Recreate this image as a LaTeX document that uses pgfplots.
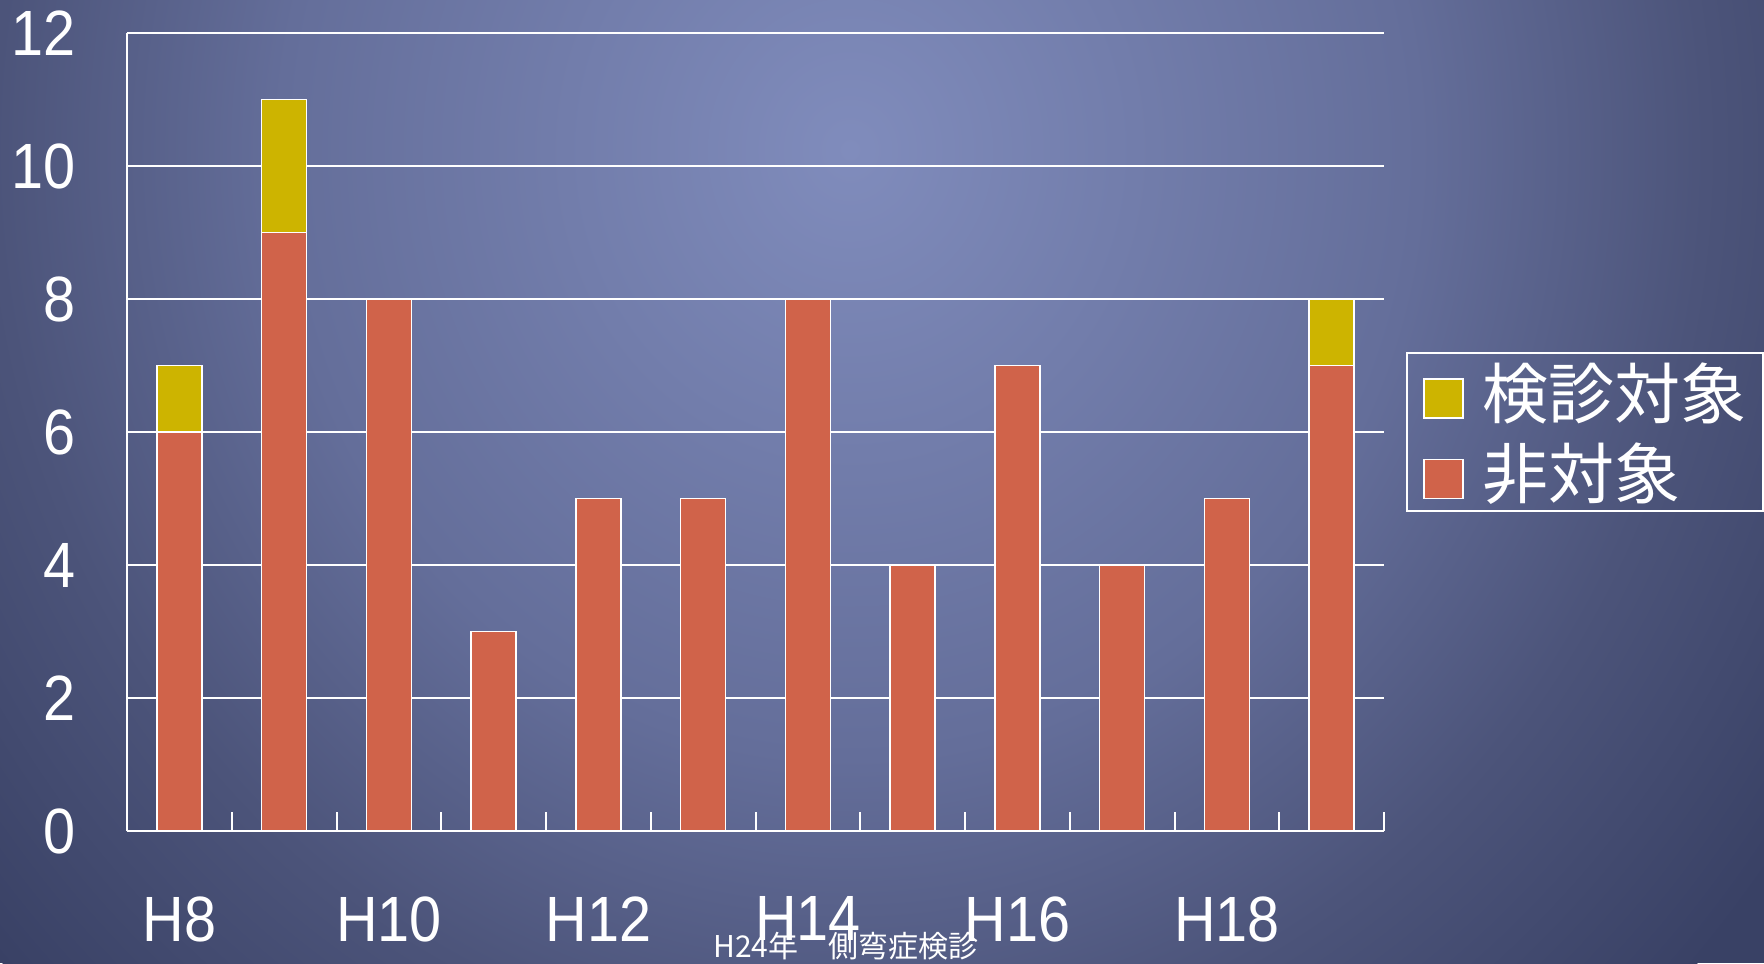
\documentclass[border=0pt]{standalone}
\usepackage{fontspec}
\usepackage{pgfplots}
\pgfplotsset{compat=1.18}
\setmainfont{Liberation Sans}
\newfontfamily\numfont[FakeStretch=0.9]{Liberation Sans}
\newfontfamily\cjk{Noto Sans CJK JP}

\definecolor{barYellow}{RGB}{205,180,0}
\definecolor{barOrange}{RGB}{208,99,74}
\definecolor{bgA}{RGB}{128,140,188}
\definecolor{bgB}{RGB}{100,110,154}
\definecolor{bgC}{RGB}{76,84,122}
\definecolor{bgD}{RGB}{57,65,101}

% the path's box is fitted to the central 50bp square of the shading,
% so the rim of the ellipse sits at 25bp
\pgfdeclareradialshading{slidebg}{\pgfpoint{0bp}{0bp}}{%
  color(0bp)=(bgA); color(12.5bp)=(bgB); color(18.75bp)=(bgC);
  color(25bp)=(bgD); color(50bp)=(bgD)}

\begin{document}
\begin{tikzpicture}
% slide background
\fill[bgD] (0,0) rectangle (882pt,481.5pt);
\begin{scope}
  \clip (0,0) rectangle (882pt,481.5pt);
  \shade[shading=slidebg] (425pt,406.5pt) ellipse (570pt and 608pt);
\end{scope}

\begin{axis}[
  at={(63.5pt,66pt)}, anchor=south west,
  scale only axis, width=628.5pt, height=399pt,
  xmin=-0.5, xmax=11.5, ymin=0, ymax=12,
  ybar stacked, bar width=22.5pt,
  axis x line*=bottom, axis y line*=left,
  axis line style={white, line width=1pt, -},
  ymajorgrids, grid style={white, line width=1pt},
  ytick={0,2,...,12},
  xtick={0,2,4,6,8,10},
  xticklabels={H8,H10,H12,H14,H16,H18},
  minor xtick={-0.5,0.5,...,11.5},
  tick align=inside,
  major tick length=0pt,
  minor tick length=9.5pt,
  minor tick style={white, line width=1pt},
  /pgf/number format/assume math mode=true,
  ticklabel style={text=white, inner sep=0pt, font=\numfont\fontsize{32}{32}\selectfont},
  yticklabel style={anchor=east, xshift=-25.5pt},
  xticklabel style={anchor=north, yshift=-32.5pt},
  legend image code/.code={\draw[#1, draw=white, line width=0.8pt] (0pt,-13pt) rectangle (19.5pt,6.5pt);},
  reverse legend,
  legend cell align=left,
  legend style={at={(1.0175,0.6003)}, anchor=north west,
    draw=white, line width=1pt, fill=none, text=white,
    font=\cjk\fontsize{33}{33}\selectfont,
    inner xsep=8pt, inner ysep=4.75pt, row sep=11pt,
    nodes={inner sep=0pt},
    /tikz/every odd column/.append style={column sep=9.5pt}},
]
% non-target cases (bottom segment)
\addplot[fill=barOrange, draw=white, line width=0.8pt] coordinates {
  (0,6) (1,9) (2,8) (3,3) (4,5) (5,5) (6,8) (7,4) (8,7) (9,4) (10,5) (11,7)};
% screening-target cases (top segment)
\addplot[fill=barYellow, draw=white, line width=0.8pt] coordinates {
  (0,1) (1,2) (2,0) (3,0) (4,0) (5,0) (6,0) (7,0) (8,0) (9,0) (10,0) (11,1)};
\legend{非対象,検診対象}
\end{axis}

\node[anchor=south, inner sep=0pt, text=white, font=\cjk\fontsize{15}{15}\selectfont]
  at (423pt,1.5pt) {H24年　側弯症検診};

\pgfresetboundingbox
\useasboundingbox (0,0) rectangle (882pt,481.5pt);
\end{tikzpicture}
\end{document}
